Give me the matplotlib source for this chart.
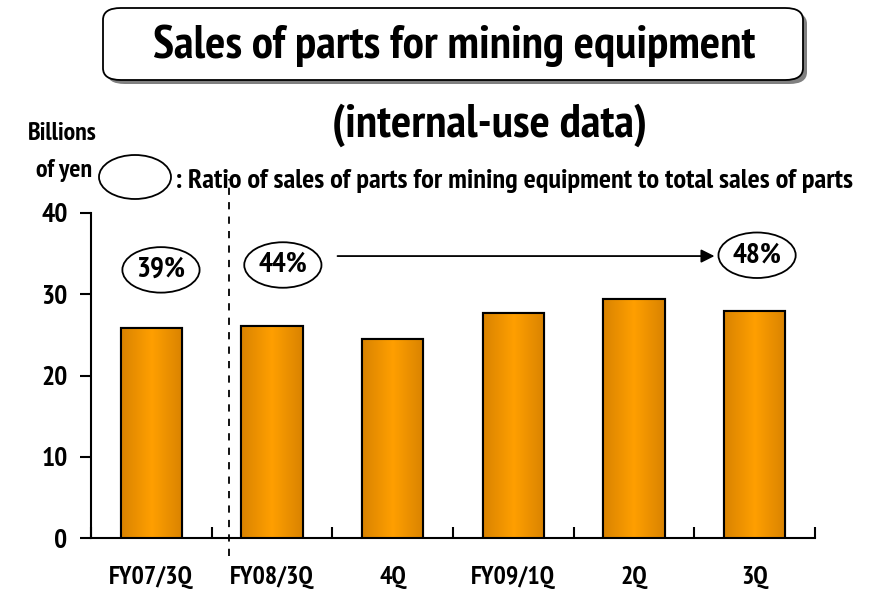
import matplotlib
matplotlib.use('Agg')
import matplotlib.pyplot as plt
import numpy as np
from matplotlib import font_manager
from matplotlib.patches import Ellipse, FancyBboxPatch
from matplotlib.colors import LinearSegmentedColormap

# prefer a bold narrow sans if one is installed, like the Arial Narrow of the original
narrow = []
for f in font_manager.fontManager.ttflist:
    nm = f.name.lower()
    w = f.weight if isinstance(f.weight, int) else 700 if 'bold' in str(f.weight) else 400
    if ('narrow' in nm or 'condensed' in nm or f.stretch in ('condensed', 'semi-condensed')) and w >= 600:
        narrow.append((0 if 'narrow' in nm else 1, f.name, f.stretch))
narrow.sort()
fam = narrow[0][1] if narrow else 'Liberation Sans'
stretch = narrow[0][2] if narrow else 'normal'
scale = 1.2 if narrow else 0.95
plt.rcParams['font.family'] = [fam, 'Liberation Sans', 'DejaVu Sans']
plt.rcParams['font.weight'] = 'bold'

# data
categories = ['FY07/3Q', 'FY08/3Q', '4Q', 'FY09/1Q', '2Q', '3Q']
sales = [25.8, 26.1, 24.5, 27.7, 29.4, 28.0]
ratio_labels = ['39%', '44%', '48%']
ratio_x = [0.08, 1.09, 5.02]
ratio_y = [33.0, 33.6, 34.8]
yticks = [0, 10, 20, 30, 40]

fig = plt.figure(figsize=(8.9, 5.9), dpi=100)
ax = fig.add_axes([91/890, 1-538/590, 724/890, (538-213)/590])

x = np.arange(len(categories))
bars = ax.bar(x, sales, width=0.51, color='#F39200', edgecolor='black', linewidth=1.5, zorder=3)

# horizontal gradient inside every bar
grad_cmap = LinearSegmentedColormap.from_list('og', ['#D98300', '#FF9F00', '#D98300'])
grad = np.linspace(0, 1, 100).reshape(1, -1)
for b in bars:
    bx, by = b.get_x(), b.get_y()
    im = ax.imshow(grad, cmap=grad_cmap, aspect='auto', zorder=3.5,
                   extent=[bx, bx + b.get_width(), by, by + b.get_height()])
    im.set_clip_path(b)
    ax.bar(b.get_x() + b.get_width()/2, b.get_height(), width=b.get_width(),
           facecolor='none', edgecolor='black', linewidth=1.5, zorder=4)

ax.set_xlim(-0.5, len(categories) - 0.5)
ax.set_ylim(0, 40)
ax.spines['top'].set_visible(False)
ax.spines['right'].set_visible(False)
ax.spines['left'].set_linewidth(1.5)
ax.spines['bottom'].set_linewidth(1.5)

tk = dict(fontweight='bold', fontstretch=stretch)
ax.set_yticks(yticks)
ax.set_yticklabels([str(v) for v in yticks], fontsize=16.5*scale, **tk)
ax.tick_params(axis='y', direction='out', length=8, width=1.5, pad=9)

# x ticks sit at category boundaries, labels at the centres
ax.set_xticks(np.arange(len(categories) + 1) - 0.5)
ax.set_xticklabels([])
ax.set_xticks(x, minor=True)
ax.set_xticklabels(categories, minor=True, fontsize=15.5*scale, **tk)
ax.tick_params(axis='x', which='major', direction='in', length=8, width=1.5)
ax.tick_params(axis='x', which='minor', length=0, pad=20)

# dashed separator
ax.plot([0.643, 0.643], [-2.2, 44.2], color='black', linestyle=(0, (4, 4)), linewidth=1.3,
        clip_on=False, zorder=5)

# ratio ovals
for lab, rx, ry in zip(ratio_labels, ratio_x, ratio_y):
    ax.add_patch(Ellipse((rx, ry), 0.64, 5.6, facecolor='white', edgecolor='black',
                         linewidth=1.3, clip_on=False, zorder=6))
    ax.text(rx, ry, lab, ha='center', va='center', fontsize=17.5*scale, zorder=7, **tk)

ax.annotate('', xy=(4.69, 34.7), xytext=(1.52, 34.7),
            arrowprops=dict(arrowstyle='-|>', color='black', lw=1.3, mutation_scale=20))

# title box with shadow
shadow = FancyBboxPatch((107/890, 1-84/590), 700/890, 72/590, boxstyle='round,pad=0,rounding_size=0.02',
                        transform=fig.transFigure, facecolor='#808080', edgecolor='none')
box = FancyBboxPatch((103/890, 1-80/590), 700/890, 72/590, boxstyle='round,pad=0,rounding_size=0.02',
                     transform=fig.transFigure, facecolor='white', edgecolor='black', linewidth=1.3)
fig.patches.extend([shadow, box])
fig.text(454/890, 1-46/590, 'Sales of parts for mining equipment', ha='center', va='center',
         fontsize=28.5*scale, **tk)
fig.text(490/890, 1-125/590, '(internal-use data)', ha='center', va='center',
         fontsize=28.5*scale, **tk)

fig.text(62/890, 1-134/590, 'Billions', ha='center', va='center', fontsize=15.5*scale, **tk)
fig.text(64/890, 1-170/590, 'of yen', ha='center', va='center', fontsize=15.5*scale, **tk)
fig.patches.append(Ellipse((135/890, 1-177/590), 72/890, 44/590, transform=fig.transFigure,
                           facecolor='white', edgecolor='black', linewidth=1.3))
fig.text(175/890, 1-181/590, ': Ratio of sales of parts for mining equipment to total sales of parts',
         ha='left', va='center', fontsize=17*scale, **tk)

fig.savefig('out.png', dpi=100, facecolor='white')
